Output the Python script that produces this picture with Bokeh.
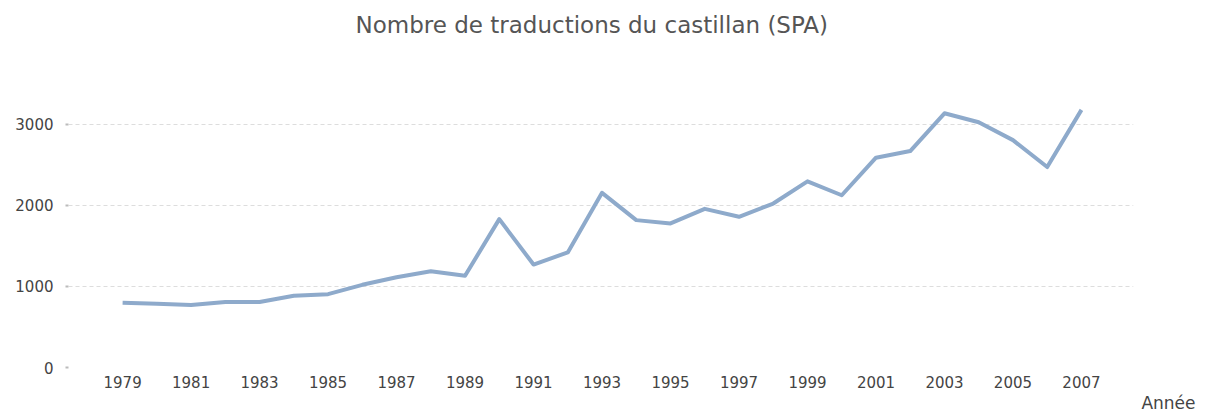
from bokeh.plotting import figure
from bokeh.models import Range1d, FixedTicker, Title
from bokeh.embed import file_html
from bokeh.resources import INLINE

years = list(range(1979, 2008))
translations = [800, 786, 770, 807, 807, 884, 905, 1020, 1114, 1188, 1132,
                1830, 1270, 1420, 2155, 1818, 1777, 1957, 1859, 2023, 2297,
                2125, 2588, 2670, 3136, 3026, 2805, 2473, 3178]
x_ticks = list(range(1979, 2008, 2))
y_ticks = [0, 1000, 2000, 3000]

FONT = "DejaVu Sans"

p = figure(width=1205, height=412, output_backend="svg", toolbar_location=None,
           x_range=Range1d(1977.42, 2008.52), y_range=Range1d(0, 3960),
           min_border_left=68, min_border_right=72, min_border_top=45,
           min_border_bottom=44, title="Nombre de traductions du castillan (SPA)")
p.outline_line_color = None
p.background_fill_color = "white"

p.title.align = "left"
p.title.offset = 287
p.title.text_font = FONT
p.title.text_font_size = "23px"
p.title.text_font_style = "normal"
p.title.text_color = "#555555"
p.title.standoff = 18

p.line(years, translations, line_color="#8eaacb", line_width=4, line_join="round")

p.xgrid.grid_line_color = None
p.ygrid.grid_line_color = "#dddddd"
p.ygrid.grid_line_dash = "4 3"
p.ygrid.grid_line_width = 1

p.xaxis.ticker = FixedTicker(ticks=x_ticks)
p.yaxis.ticker = FixedTicker(ticks=y_ticks)
for ax in (p.xaxis, p.yaxis):
    ax.axis_line_color = None
    ax.major_label_text_font = FONT
    ax.major_label_text_font_size = "15px"
    ax.major_label_text_color = "#444444"
    ax.minor_tick_line_color = None
p.xaxis.major_tick_line_color = None
p.xaxis.major_tick_out = 0
p.xaxis.major_tick_in = 0
p.xaxis.major_label_standoff = 8
p.yaxis.major_tick_line_color = "#bbbbbb"
p.yaxis.major_tick_out = 3
p.yaxis.major_tick_in = 0
p.yaxis.major_tick_line_width = 2
p.yaxis.major_label_standoff = 12

xlab = Title(text="Année", align="right", offset=-62, standoff=0,
             text_font=FONT, text_font_size="17px", text_font_style="normal",
             text_color="#444444")
p.add_layout(xlab, "below")

open("out.html", "w").write(file_html(p, INLINE))
